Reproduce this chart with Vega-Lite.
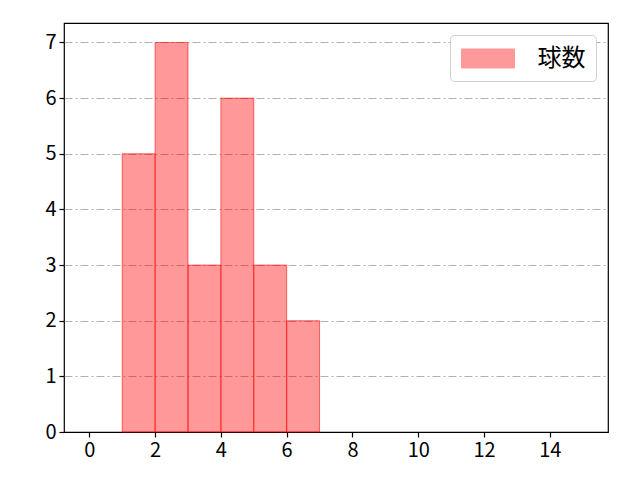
{
  "$schema": "https://vega.github.io/schema/vega-lite/v6.json",
  "width": 544,
  "height": 409,
  "autosize": "none",
  "padding": {"left": 64, "top": 23, "right": 32, "bottom": 48},
  "background": "white",
  "config": {
    "font": "Noto Sans CJK JP",
    "view": {"stroke": "black", "strokeWidth": 1.2},
    "axis": {
      "labelFont": "Noto Sans CJK JP",
      "labelFontSize": 20,
      "labelColor": "black",
      "tickColor": "black",
      "tickSize": 5,
      "tickWidth": 1.2,
      "domain": false,
      "title": null,
      "labelPadding": 3
    }
  },
  "data": {
    "values": [
      {"bin_start": 1, "bin_end": 2, "count": 5, "series": "球数"},
      {"bin_start": 2, "bin_end": 3, "count": 7, "series": "球数"},
      {"bin_start": 3, "bin_end": 4, "count": 3, "series": "球数"},
      {"bin_start": 4, "bin_end": 5, "count": 6, "series": "球数"},
      {"bin_start": 5, "bin_end": 6, "count": 3, "series": "球数"},
      {"bin_start": 6, "bin_end": 7, "count": 2, "series": "球数"}
    ]
  },
  "mark": {"type": "bar", "fillOpacity": 0.4, "stroke": "red", "strokeOpacity": 0.55, "strokeWidth": 1},
  "encoding": {
    "x": {
      "field": "bin_start",
      "type": "quantitative",
      "scale": {"domain": [-0.77, 15.77], "nice": false, "zero": false},
      "axis": {"values": [0, 2, 4, 6, 8, 10, 12, 14], "grid": false}
    },
    "x2": {"field": "bin_end"},
    "y": {
      "field": "count",
      "type": "quantitative",
      "scale": {"domain": [0, 7.35], "nice": false, "padding": 0},
      "axis": {
        "values": [0, 1, 2, 3, 4, 5, 6, 7],
        "grid": true,
        "gridColor": "#b0b0b0",
        "gridDash": [8, 3, 2, 3],
        "gridWidth": 1,
        "gridOpacity": {"condition": {"test": "datum.value === 0", "value": 0}, "value": 1}
      }
    },
    "y2": {"datum": 0},
    "color": {
      "field": "series",
      "type": "nominal",
      "scale": {"range": ["red"]},
      "legend": {
        "title": null,
        "orient": "top-right",
        "offset": 12,
        "symbolType": "M-2.04,-0.73H2.04V0.73H-2.04Z",
        "symbolSize": 676,
        "symbolOffset": 14.5,
        "symbolOpacity": 0.4,
        "symbolStrokeColor": "red",
        "symbolStrokeWidth": 1,
        "labelFontSize": 24,
        "labelFont": "Noto Sans CJK JP",
        "labelColor": "black",
        "labelOffset": 36,
        "strokeColor": "#d0d0d0",
        "fillColor": "white",
        "cornerRadius": 4,
        "padding": 10
      }
    }
  }
}
